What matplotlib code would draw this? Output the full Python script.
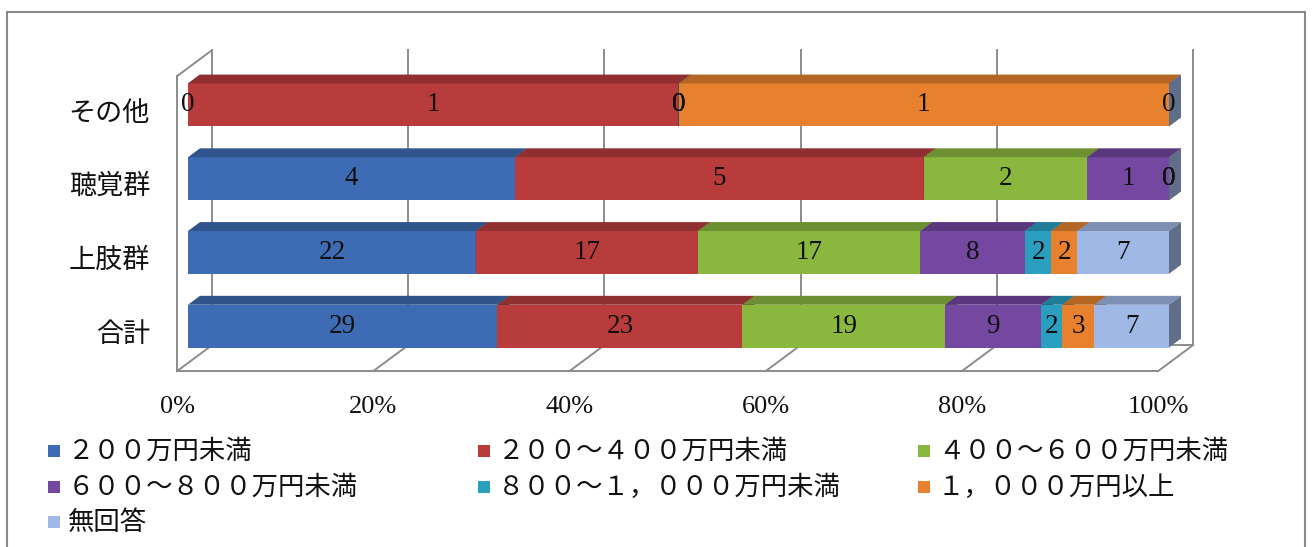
import numpy as np
import matplotlib.pyplot as plt
from matplotlib.patches import Polygon, Rectangle
from matplotlib.lines import Line2D
from matplotlib.transforms import IdentityTransform
from matplotlib.colors import to_rgb

plt.rcParams['font.family'] = ['Noto Sans CJK JP', 'DejaVu Sans']

# 年収（世帯）の分布
groups = ['合計', '上肢群', '聴覚群', 'その他']
series = ['２００万円未満', '２００～４００万円未満', '４００～６００万円未満',
          '６００～８００万円未満', '８００～１，０００万円未満', '１，０００万円以上', '無回答']
total = [29, 23, 19, 9, 2, 3, 7]
upper_limb = [22, 17, 17, 8, 2, 2, 7]
hearing = [4, 5, 2, 1, 0, 0, 0]
other = [0, 1, 0, 0, 0, 1, 0]
pct_ticks = [0, 0.2, 0.4, 0.6, 0.8, 1.0]
pct_labels = ['0%', '20%', '40%', '60%', '80%', '100%']

colors = ['#3e6cb4', '#b93c3c', '#8ab83f', '#7447a0', '#2a9fc0', '#e8812e', '#a0b8e6']

W, H = 1313, 547
fig = plt.figure(figsize=(W / 100, H / 100), dpi=100)
fig.patch.set_facecolor('white')

# 棒の前面が乗る平面
ax = fig.add_axes([188 / W, 184 / H, 981 / W, 295 / H])
ax.set_xlim(0, 1)
ax.set_ylim(-0.5, 3.5)
ax.axis('off')

# 斜投影の奥行き（ピクセル）
D = np.array([35.0, 26.0])
T_FRONT = 11 / 35   # 棒の前面
T_BACK = 23 / 35    # 棒の背面
ident = IdentityTransform()


def proj(x, y, t):
    return ax.transData.transform((x, y)) + (t - T_FRONT) * D


def seg(p, q, **kw):
    line = Line2D([p[0], q[0]], [p[1], q[1]], transform=ident, clip_on=False,
                  color='#8c8c8c', lw=1.4, zorder=1, **kw)
    ax.add_line(line)


# 壁と床
for x in pct_ticks:
    seg(proj(x, -0.5, 1), proj(x, 3.5, 1))
    seg(proj(x, -0.5, 0), proj(x, -0.5, 1))
seg(proj(0, -0.5, 0), proj(1, -0.5, 0))
seg(proj(0, -0.5, 1), proj(1, -0.5, 1))
seg(proj(0, -0.5, 0), proj(0, 3.5, 0))
seg(proj(0, 3.5, 0), proj(0, 3.5, 1))

# 100%積み上げ棒
bh = 0.58
rows = [total, upper_limb, hearing, other]
for i, vals in enumerate(rows):
    vals = np.array(vals, dtype=float)
    frac = vals / vals.sum()
    left = np.concatenate([[0], np.cumsum(frac)[:-1]])
    for j in range(len(vals)):
        c = np.array(to_rgb(colors[j]))
        x0, x1 = left[j], left[j] + frac[j]
        y0, y1 = i - bh / 2, i + bh / 2
        ax.barh(i, frac[j], left=x0, height=bh, color=c, zorder=3 + j * 0.01)
        top = [proj(x0, y1, T_FRONT), proj(x1, y1, T_FRONT),
               proj(x1, y1, T_BACK), proj(x0, y1, T_BACK)]
        side = [proj(x1, y0, T_FRONT), proj(x1, y1, T_FRONT),
                proj(x1, y1, T_BACK), proj(x1, y0, T_BACK)]
        ax.add_patch(Polygon(top, closed=True, transform=ident, clip_on=False,
                             facecolor=c * 0.78, edgecolor='none', zorder=3 + j * 0.01))
        ax.add_patch(Polygon(side, closed=True, transform=ident, clip_on=False,
                             facecolor=c * 0.6, edgecolor='none', zorder=3 + j * 0.01))
        ax.text(x0 + frac[j] / 2, i, f'{int(vals[j])}', ha='center', va='center',
                family='Liberation Serif', fontsize=19.5, color='#111111', zorder=5)

# 軸ラベル
for x, lab in zip(pct_ticks, pct_labels):
    px, py = proj(x, -0.5, 0)
    fig.text(px / W, (py - 36) / H, lab, ha='center', va='center',
             family='Liberation Serif', fontsize=19, color='#111111')
for i, g in enumerate(groups):
    px, py = proj(0, i, 0)
    fig.text((px - 27) / W, py / H, g, ha='right', va='center',
             fontsize=19.5, color='#111111')

# 凡例
col_x = [54, 484, 924]
row_y = [96, 60, 25]
for k, name in enumerate(series):
    cx, cy = col_x[k % 3], row_y[k // 3]
    fig.add_artist(Rectangle(((cx - 6) / W, (cy - 6) / H), 12 / W, 12 / H,
                             transform=fig.transFigure, facecolor=colors[k],
                             edgecolor='none'))
    fig.text((cx + 14) / W, cy / H, name, ha='left', va='center',
             fontsize=19, color='#111111')

# 外枠
fig.add_artist(Rectangle((7 / W, -0.05), 1298 / W, (H - 12) / H + 0.05,
                         transform=fig.transFigure, fill=False,
                         edgecolor='#8a8a8a', lw=1.5))

fig.savefig('out.png', dpi=100)
